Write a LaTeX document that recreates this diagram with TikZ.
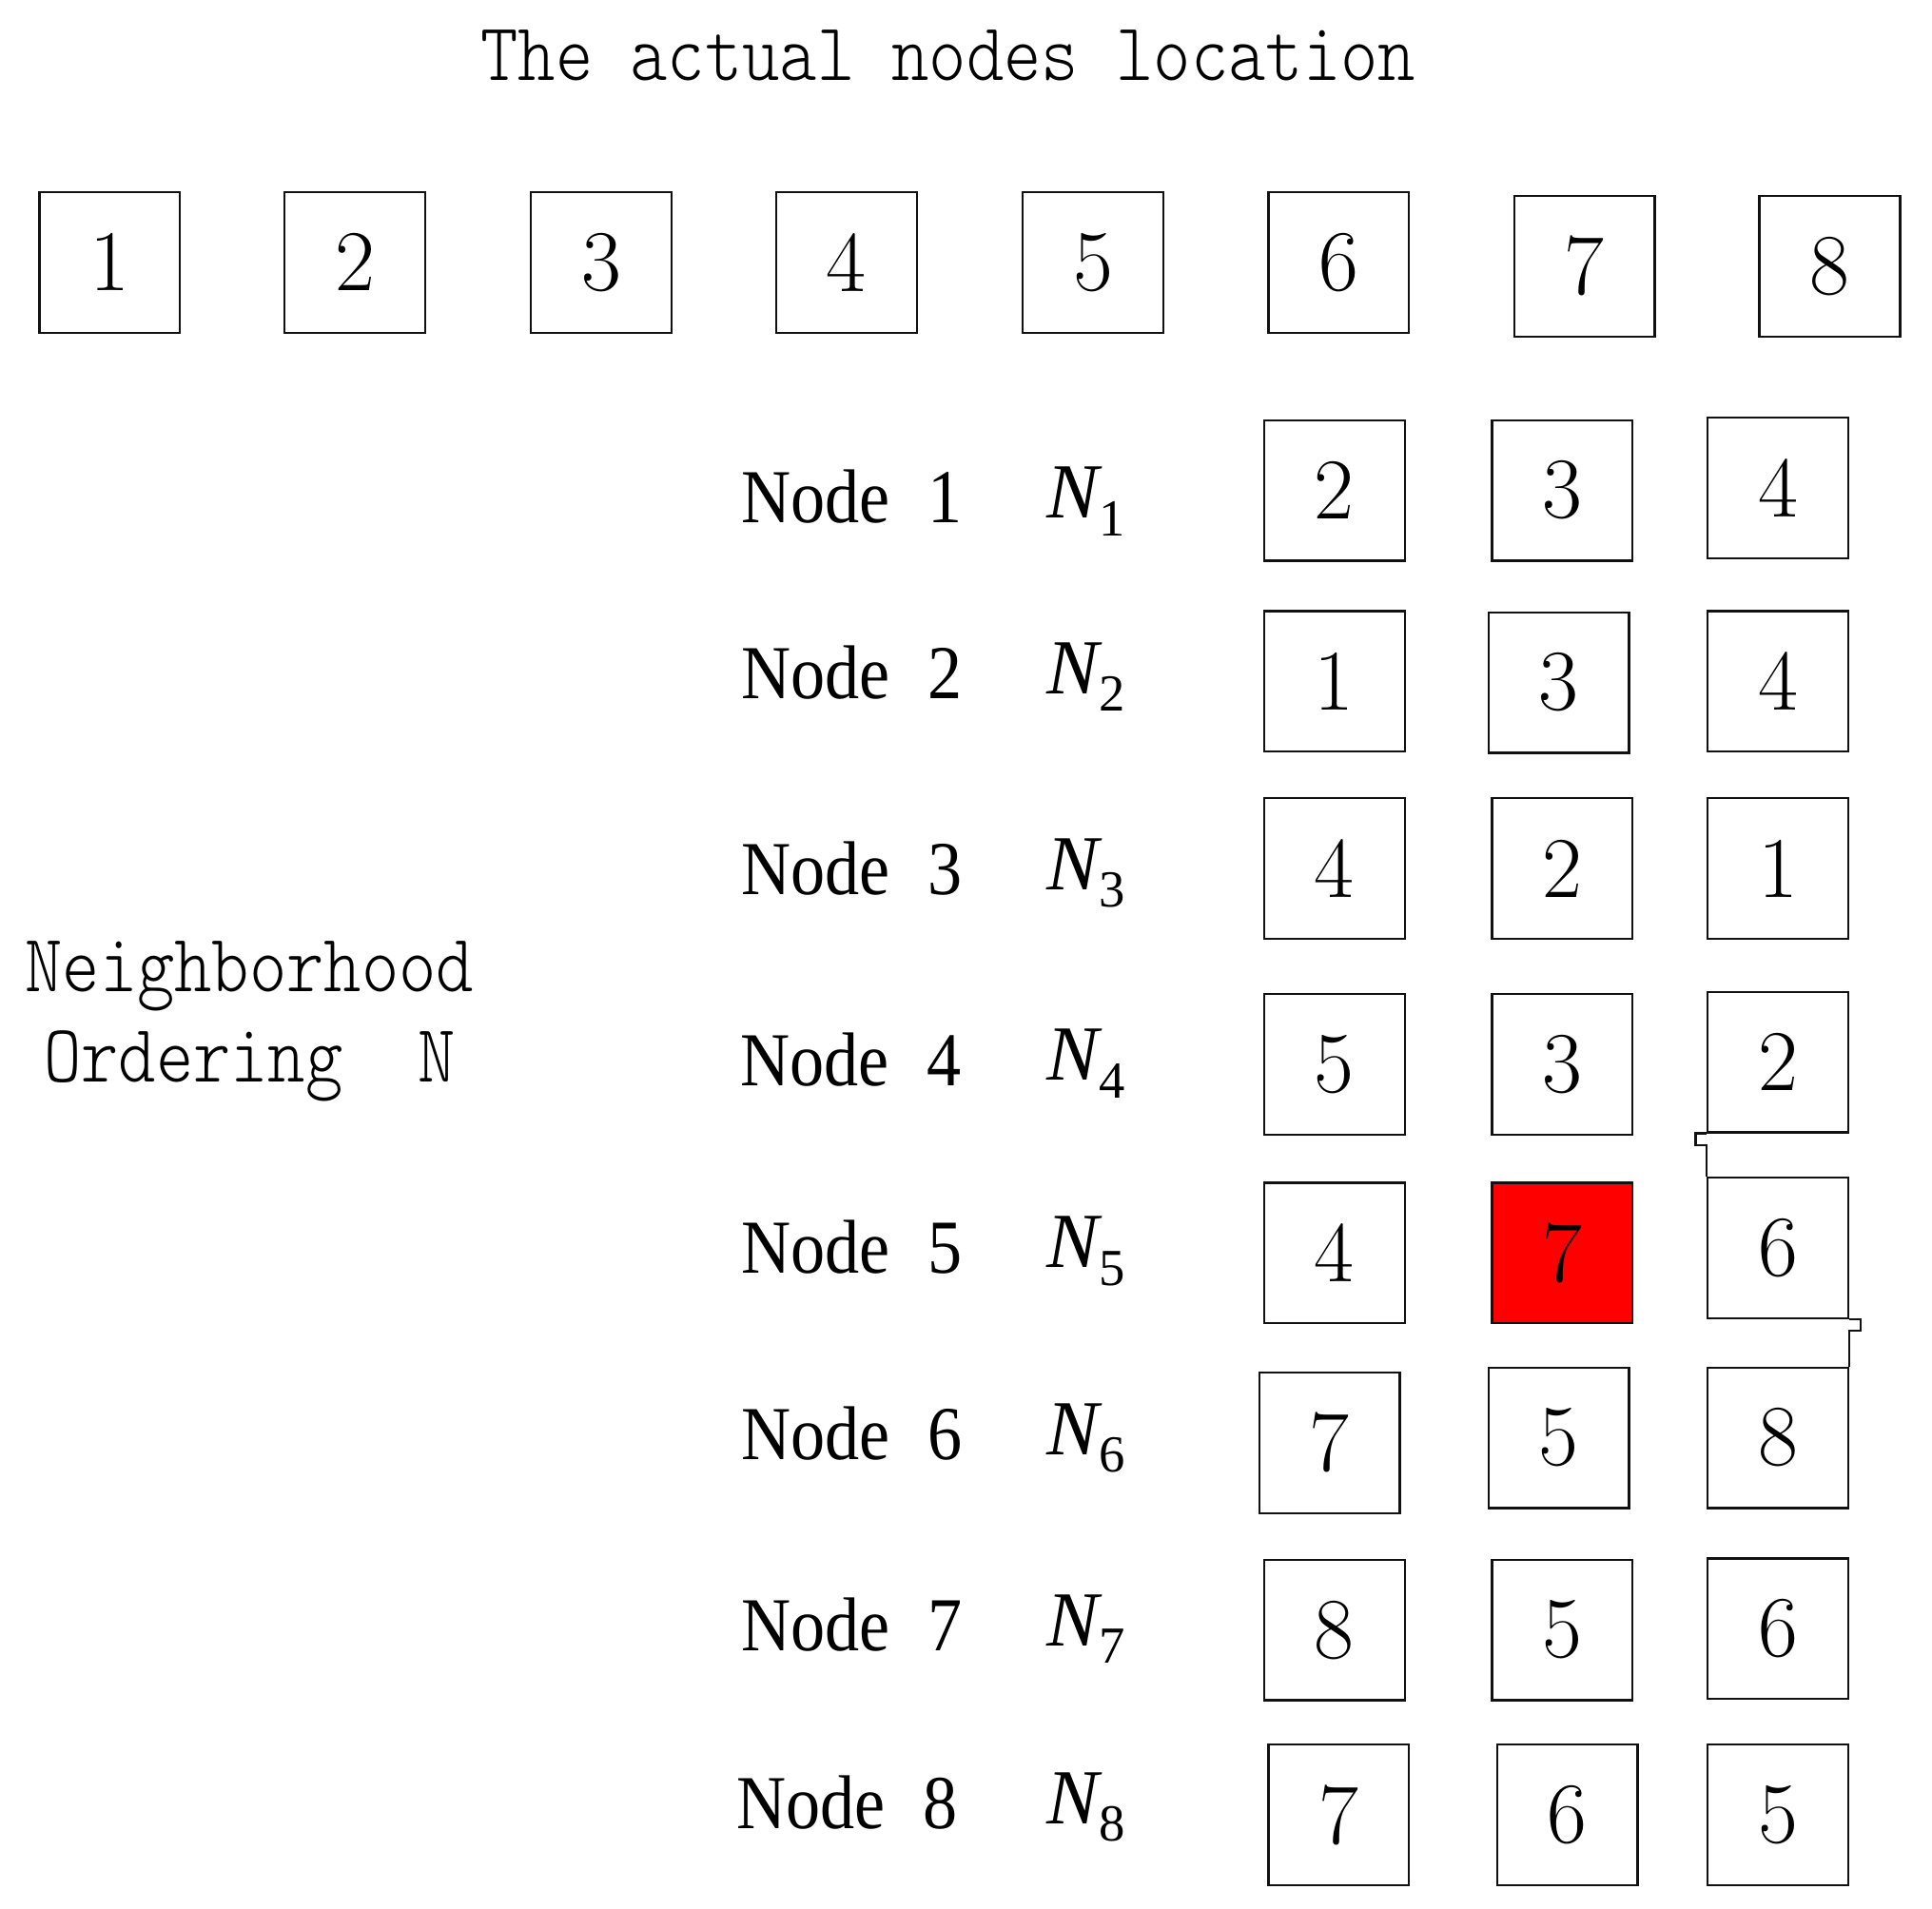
\documentclass[tikz,border=0pt]{standalone}
\usepackage{fontspec}
\usetikzlibrary{positioning}
\newfontfamily\nbMono[FakeStretch=0.865]{lmmonolt10-regular.otf}
\newfontfamily\nbSerif[FakeStretch=0.9]{Liberation Serif}
\newfontfamily\nbItalic{Liberation Serif}
\definecolor{nbRed}{HTML}{FF0000}
\definecolor{nbInk}{HTML}{111111}
\tikzset{
  cell/.style={draw=nbInk, line width=0.5pt, minimum size=1.14cm, inner sep=0pt, font=\fontsize{20}{24}\selectfont},
  rowlbl/.style={anchor=base west, inner sep=0pt, font=\nbSerif\fontsize{17.6}{20}\selectfont},
  nlbl/.style={anchor=base west, inner sep=0pt, font=\nbItalic\itshape\fontsize{18}{20}\selectfont},
  monolbl/.style={inner sep=0pt, font=\nbMono\fontsize{19}{20.8}\selectfont, align=center},
  link/.style={draw=nbInk, line width=0.5pt},
}
\begin{document}
\begin{tikzpicture}[x=0.01cm,y=-0.01cm]
  \useasboundingbox (0,0) rectangle (1568,1549);
  % title
  \node[monolbl, anchor=base] (title) at (769.5,65.6) {The actual nodes location};
  % actual nodes location
  \foreach \i/\x/\y in {1/89/213, 2/288/213, 3/488/213, 4/687/213, 5/887/213, 6/1086.5/213, 7/1286/216, 8/1485/216} {
    \node[cell] (top\i) at (\x,\y) {\i};
  }
  % neighborhood ordering
  \node[monolbl] (nbh) at (202.5,829) {Neighborhood\\Ordering\ \ N};
  % row labels
  \foreach \r/\x/\y in {1/601/424.6, 2/601/567, 3/601/726, 4/600/881, 5/601/1033, 6/601/1185, 7/601/1340, 8/597/1484} {
    \node[rowlbl] (lbl\r) at (\x,\y) {Node\hspace{0.5em}\r};
    \node[nlbl] (n\r) at (849,\y-4) {N\raisebox{-4pt}{\fontsize{12}{14}\selectfont\upshape\r}};
  }
  % neighbour cells
  \foreach \n/\x/\y/\v/\f in {r1a/1083/398/2/white, r1b/1268/398/3/white, r1c/1443/396/4/white,
      r2a/1083/553/1/white, r2b/1265/554/3/white, r2c/1443/553/4/white,
      r3a/1083/705/4/white, r3b/1268/705/2/white, r3c/1443/705/1/white,
      r4a/1083/864/5/white, r4b/1268/864/3/white, r4c/1443/862/2/white,
      r5a/1083/1017/4/white, r5b/1268/1017/7/nbRed, r5c/1443/1013/6/white,
      r6a/1079/1171/7/white, r6b/1265/1167/5/white, r6c/1443/1167/8/white,
      r7a/1083/1323/8/white, r7b/1268/1323/5/white, r7c/1443/1322/6/white,
      r8a/1086.5/1473/7/white, r8b/1272/1473/6/white, r8c/1443/1473/5/white} {
    \node[cell, fill=\f] (\n) at (\x,\y) {\v};
  }
  % links between the right column cells
  \draw[link] (r4c.south west) -- ++(-9,0) -- ++(0,9.5) -- ++(9,0) -- (r5c.north west);
  \draw[link] (r5c.south east) -- ++(9,0) -- ++(0,9) -- ++(-9,0) -- (r6c.north east);
\end{tikzpicture}
\end{document}
